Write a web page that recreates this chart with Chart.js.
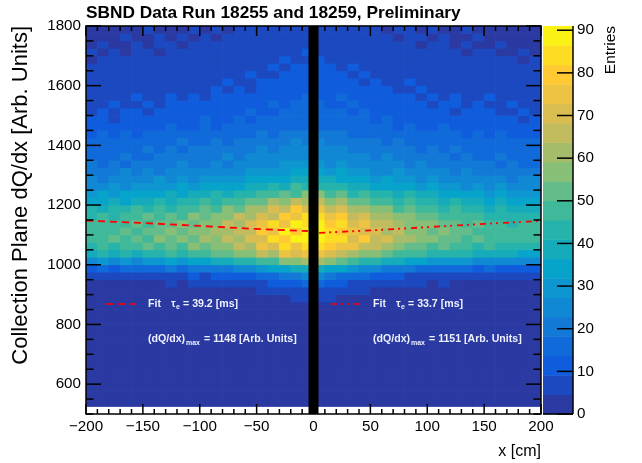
<!DOCTYPE html>
<html>
<head>
<meta charset="utf-8">
<title>SBND dQ/dx</title>
<script src="https://cdn.jsdelivr.net/npm/chart.js@4/dist/chart.umd.min.js"></script>
<style>
    html, body { margin: 0; padding: 0; background: #fff; }
    #wrap { width: 642px; height: 463px; }
</style>
</head>
<body>
<div id="wrap"><canvas id="plot"></canvas></div>
<script>
// --- Data ---
const titleText = 'SBND Data Run 18255 and 18259, Preliminary';
const xBinCenters = [-195, -185, -175, -165, -155, -145, -135, -125, -115, -105, -95, -85, -75, -65, -55, -45, -35, -25, -15, -5,
    5, 15, 25, 35, 45, 55, 65, 75, 85, 95, 105, 115, 125, 135, 145, 155, 165, 175, 185, 195];
const yBinWidth = 25;
const yTopEdge = 1800;

// entries per bin, first row is the top of the plot (1775-1800), each row is one dQ/dx bin
const counts = [
    [3, 2, 4, 3, 2, 5, 3, 4, 3, 5, 4, 6, 4, 5, 7, 5, 6, 8, 6, 7, 8, 6, 7, 5, 6, 7, 4, 5, 6, 3, 5, 4, 3, 5, 3, 4, 2, 4, 3, 2],
    [4, 3, 3, 5, 4, 3, 5, 4, 6, 4, 5, 4, 6, 5, 6, 8, 6, 7, 9, 7, 8, 9, 6, 7, 8, 5, 6, 4, 5, 6, 4, 5, 3, 4, 5, 3, 4, 3, 2, 4],
    [3, 5, 4, 3, 5, 4, 6, 5, 4, 6, 5, 7, 5, 6, 7, 6, 9, 7, 8, 8, 9, 7, 8, 6, 7, 6, 7, 5, 6, 4, 6, 5, 4, 5, 4, 3, 5, 4, 3, 3],
    [5, 4, 5, 4, 6, 5, 4, 7, 5, 6, 5, 6, 8, 6, 7, 8, 7, 9, 8, 10, 9, 8, 9, 7, 8, 7, 6, 7, 5, 6, 5, 6, 5, 4, 5, 6, 4, 3, 5, 4],
    [4, 6, 5, 6, 5, 7, 5, 6, 7, 5, 7, 6, 7, 8, 6, 9, 8, 10, 9, 9, 11, 9, 8, 9, 7, 8, 8, 6, 7, 6, 7, 5, 6, 7, 5, 5, 6, 5, 4, 5],
    [6, 5, 7, 5, 6, 6, 8, 6, 7, 6, 8, 7, 9, 7, 8, 8, 10, 9, 11, 10, 10, 11, 9, 10, 8, 9, 7, 8, 7, 8, 6, 7, 6, 6, 7, 5, 6, 7, 5, 6],
    [5, 7, 6, 7, 8, 6, 7, 8, 6, 8, 7, 8, 7, 9, 10, 8, 9, 11, 10, 12, 11, 10, 11, 9, 10, 8, 9, 8, 9, 7, 8, 6, 8, 7, 6, 8, 6, 5, 7, 6],
    [7, 6, 8, 7, 6, 8, 7, 9, 8, 7, 9, 8, 10, 8, 9, 11, 10, 12, 10, 11, 13, 11, 12, 10, 9, 11, 9, 8, 10, 8, 7, 9, 7, 8, 7, 6, 8, 7, 6, 7],
    [6, 8, 7, 9, 7, 8, 9, 7, 9, 8, 9, 10, 9, 11, 9, 10, 12, 11, 13, 12, 12, 13, 10, 12, 11, 10, 11, 9, 8, 10, 9, 8, 9, 7, 9, 8, 7, 8, 7, 8],
    [8, 7, 9, 8, 10, 8, 9, 10, 9, 11, 9, 10, 11, 10, 12, 11, 12, 13, 12, 14, 13, 12, 14, 11, 12, 10, 12, 11, 10, 9, 11, 9, 10, 9, 8, 10, 8, 9, 8, 7],
    [9, 8, 10, 9, 8, 11, 9, 10, 12, 10, 11, 10, 12, 11, 13, 12, 14, 12, 15, 14, 15, 13, 12, 14, 12, 13, 11, 12, 10, 11, 9, 11, 10, 9, 10, 9, 8, 10, 9, 8],
    [8, 10, 9, 11, 10, 9, 12, 10, 11, 10, 12, 13, 11, 12, 14, 13, 12, 15, 14, 16, 15, 14, 15, 13, 14, 12, 13, 11, 12, 12, 10, 11, 9, 11, 10, 11, 9, 8, 10, 9],
    [10, 11, 9, 12, 10, 12, 11, 13, 11, 12, 14, 12, 13, 15, 13, 14, 16, 15, 17, 16, 17, 16, 14, 15, 16, 13, 14, 12, 13, 11, 13, 12, 11, 10, 12, 10, 11, 10, 9, 11],
    [11, 10, 12, 11, 13, 11, 12, 14, 13, 12, 14, 13, 15, 14, 16, 15, 17, 16, 18, 17, 18, 15, 17, 16, 14, 16, 15, 13, 14, 13, 12, 14, 12, 13, 11, 12, 10, 12, 11, 10],
    [13, 14, 12, 15, 13, 14, 16, 14, 15, 17, 15, 16, 15, 17, 16, 19, 17, 20, 19, 21, 20, 19, 20, 17, 18, 16, 17, 16, 15, 16, 14, 15, 14, 13, 15, 13, 14, 12, 13, 13],
    [15, 14, 17, 15, 16, 18, 16, 17, 19, 17, 18, 20, 17, 19, 20, 19, 22, 20, 23, 22, 23, 21, 22, 20, 21, 19, 18, 20, 17, 18, 17, 16, 18, 15, 17, 15, 14, 16, 15, 15],
    [17, 16, 15, 18, 17, 19, 17, 20, 18, 19, 21, 19, 20, 22, 21, 23, 22, 25, 23, 24, 25, 23, 24, 22, 20, 22, 19, 21, 19, 18, 20, 17, 19, 18, 16, 18, 16, 15, 17, 16],
    [16, 18, 17, 19, 18, 17, 21, 19, 20, 22, 20, 21, 23, 22, 24, 23, 26, 24, 27, 26, 27, 25, 26, 23, 24, 22, 23, 20, 22, 21, 19, 20, 18, 20, 18, 17, 19, 17, 16, 18],
    [19, 17, 20, 18, 21, 19, 22, 20, 23, 21, 22, 24, 22, 25, 24, 27, 26, 29, 28, 30, 29, 27, 28, 26, 27, 24, 25, 23, 22, 24, 21, 22, 20, 21, 19, 20, 18, 19, 18, 17],
    [20, 22, 19, 23, 21, 24, 22, 23, 25, 23, 26, 24, 27, 26, 29, 28, 31, 29, 34, 33, 34, 31, 32, 28, 30, 27, 26, 28, 24, 25, 23, 24, 22, 23, 21, 22, 20, 22, 19, 20],
    [24, 22, 26, 23, 27, 25, 28, 26, 29, 27, 30, 28, 31, 30, 33, 32, 36, 34, 40, 38, 39, 37, 36, 33, 34, 31, 32, 29, 30, 27, 29, 26, 27, 24, 26, 23, 25, 22, 24, 23],
    [27, 25, 29, 26, 30, 28, 31, 29, 33, 30, 34, 32, 35, 34, 38, 37, 42, 40, 46, 44, 45, 42, 41, 37, 38, 34, 36, 32, 33, 30, 32, 29, 30, 27, 28, 26, 28, 25, 26, 25],
    [30, 33, 30, 35, 32, 36, 33, 37, 35, 39, 37, 41, 40, 44, 43, 48, 47, 53, 50, 56, 55, 50, 52, 45, 46, 42, 43, 39, 41, 37, 38, 34, 36, 32, 34, 31, 33, 30, 31, 30],
    [36, 34, 38, 36, 40, 37, 42, 39, 44, 41, 46, 43, 49, 47, 53, 52, 60, 57, 66, 63, 64, 58, 60, 52, 54, 48, 50, 45, 47, 42, 44, 40, 41, 37, 39, 36, 37, 34, 36, 35],
    [41, 39, 44, 41, 46, 43, 48, 45, 50, 47, 52, 49, 56, 54, 62, 60, 71, 66, 78, 70, 74, 68, 72, 60, 62, 55, 57, 50, 52, 47, 49, 45, 46, 42, 43, 40, 42, 39, 40, 40],
    [45, 47, 44, 49, 47, 51, 48, 53, 50, 55, 52, 58, 56, 64, 62, 72, 68, 80, 74, 84, 82, 75, 80, 68, 70, 61, 63, 55, 57, 51, 53, 49, 50, 46, 47, 44, 45, 43, 44, 44],
    [48, 46, 50, 48, 52, 49, 54, 51, 56, 54, 59, 56, 64, 61, 70, 74, 82, 76, 90, 85, 88, 80, 85, 72, 77, 66, 68, 60, 58, 55, 57, 52, 53, 49, 51, 47, 48, 45, 47, 46],
    [47, 50, 48, 52, 50, 54, 51, 56, 53, 58, 55, 62, 60, 68, 66, 78, 74, 88, 80, 91, 90, 84, 78, 76, 70, 72, 62, 64, 58, 59, 54, 55, 51, 52, 48, 50, 47, 48, 46, 47],
    [49, 47, 51, 48, 53, 50, 55, 52, 57, 54, 60, 57, 65, 63, 72, 69, 84, 78, 90, 87, 91, 82, 86, 72, 78, 66, 69, 60, 60, 55, 57, 53, 54, 50, 51, 48, 49, 46, 47, 48],
    [45, 47, 44, 49, 46, 51, 48, 53, 50, 55, 53, 59, 57, 64, 63, 74, 70, 82, 76, 86, 85, 78, 74, 73, 66, 64, 60, 58, 54, 54, 50, 51, 47, 48, 45, 46, 44, 45, 42, 43],
    [39, 41, 38, 43, 40, 45, 42, 47, 44, 50, 47, 53, 52, 58, 59, 66, 63, 73, 70, 76, 76, 70, 66, 62, 59, 56, 52, 50, 47, 46, 43, 44, 41, 41, 38, 40, 37, 38, 36, 36],
    [27, 28, 25, 29, 27, 31, 29, 33, 31, 35, 33, 38, 37, 42, 44, 50, 49, 56, 58, 60, 60, 55, 52, 47, 45, 41, 38, 37, 34, 33, 31, 30, 29, 28, 26, 27, 25, 26, 24, 25],
    [13, 15, 12, 16, 14, 17, 15, 19, 17, 20, 19, 22, 21, 26, 27, 31, 32, 36, 39, 40, 39, 36, 33, 30, 27, 24, 22, 21, 19, 18, 18, 16, 15, 15, 13, 14, 12, 13, 12, 12],
    [6, 7, 5, 8, 6, 8, 7, 9, 8, 10, 9, 11, 10, 13, 13, 16, 17, 20, 22, 24, 23, 20, 17, 16, 14, 12, 11, 10, 9, 9, 8, 9, 7, 8, 6, 7, 6, 7, 5, 6],
    [3, 3, 2, 4, 3, 4, 3, 5, 4, 5, 5, 6, 5, 7, 7, 9, 10, 12, 13, 15, 14, 12, 10, 9, 8, 7, 6, 6, 5, 5, 4, 5, 4, 4, 3, 3, 3, 3, 2, 3],
    [1, 2, 1, 2, 1, 2, 2, 3, 2, 3, 2, 3, 3, 4, 4, 5, 6, 7, 8, 9, 9, 8, 6, 5, 5, 4, 3, 4, 3, 3, 2, 3, 2, 2, 2, 2, 1, 2, 1, 1],
    [1, 1, 0, 1, 1, 1, 1, 1, 1, 2, 1, 2, 2, 2, 2, 3, 3, 4, 5, 6, 5, 5, 4, 3, 3, 2, 2, 2, 2, 1, 2, 1, 1, 1, 1, 1, 1, 1, 0, 1],
    [0, 1, 0, 0, 1, 0, 1, 1, 0, 1, 1, 1, 1, 1, 1, 2, 2, 2, 3, 3, 3, 3, 2, 2, 2, 1, 1, 1, 1, 1, 1, 1, 0, 1, 1, 0, 0, 1, 0, 0],
    [0, 0, 0, 1, 0, 0, 0, 1, 0, 0, 1, 0, 1, 0, 1, 1, 1, 1, 2, 2, 2, 2, 1, 1, 1, 1, 1, 0, 1, 0, 0, 1, 0, 0, 0, 1, 0, 0, 0, 0],
    [0, 0, 0, 0, 0, 1, 0, 0, 0, 0, 0, 1, 0, 0, 0, 1, 0, 1, 1, 1, 1, 1, 1, 1, 0, 0, 1, 0, 0, 0, 0, 0, 0, 1, 0, 0, 0, 0, 0, 0],
    [0, 0, 0, 0, 0, 0, 0, 0, 0, 0, 0, 0, 0, 0, 0, 0, 1, 0, 1, 1, 1, 0, 1, 0, 0, 0, 0, 0, 0, 0, 0, 0, 0, 0, 0, 0, 0, 0, 0, 0],
    [0, 0, 0, 0, 0, 0, 0, 0, 0, 0, 0, 0, 0, 0, 0, 0, 0, 0, 0, 1, 1, 0, 0, 0, 0, 0, 0, 0, 0, 0, 0, 0, 0, 0, 0, 0, 0, 0, 0, 0],
    [0, 0, 0, 0, 0, 0, 0, 0, 0, 0, 0, 0, 0, 0, 0, 0, 0, 0, 0, 0, 0, 0, 0, 0, 0, 0, 0, 0, 0, 0, 0, 0, 0, 0, 0, 0, 0, 0, 0, 0],
    [0, 0, 0, 0, 0, 0, 0, 0, 0, 0, 0, 0, 0, 0, 0, 0, 0, 0, 0, 0, 0, 0, 0, 0, 0, 0, 0, 0, 0, 0, 0, 0, 0, 0, 0, 0, 0, 0, 0, 0],
    [0, 0, 0, 0, 0, 0, 0, 0, 0, 0, 0, 0, 0, 0, 0, 0, 0, 0, 0, 0, 0, 0, 0, 0, 0, 0, 0, 0, 0, 0, 0, 0, 0, 0, 0, 0, 0, 0, 0, 0],
    [0, 0, 0, 0, 0, 0, 0, 0, 0, 0, 0, 0, 0, 0, 0, 0, 0, 0, 0, 0, 0, 0, 0, 0, 0, 0, 0, 0, 0, 0, 0, 0, 0, 0, 0, 0, 0, 0, 0, 0],
    [0, 0, 0, 0, 0, 0, 0, 0, 0, 0, 0, 0, 0, 0, 0, 0, 0, 0, 0, 0, 0, 0, 0, 0, 0, 0, 0, 0, 0, 0, 0, 0, 0, 0, 0, 0, 0, 0, 0, 0],
    [0, 0, 0, 0, 0, 0, 0, 0, 0, 0, 0, 0, 0, 0, 0, 0, 0, 0, 0, 0, 0, 0, 0, 0, 0, 0, 0, 0, 0, 0, 0, 0, 0, 0, 0, 0, 0, 0, 0, 0],
    [0, 0, 0, 0, 0, 0, 0, 0, 0, 0, 0, 0, 0, 0, 0, 0, 0, 0, 0, 0, 0, 0, 0, 0, 0, 0, 0, 0, 0, 0, 0, 0, 0, 0, 0, 0, 0, 0, 0, 0],
    [0, 0, 0, 0, 0, 0, 0, 0, 0, 0, 0, 0, 0, 0, 0, 0, 0, 0, 0, 0, 0, 0, 0, 0, 0, 0, 0, 0, 0, 0, 0, 0, 0, 0, 0, 0, 0, 0, 0, 0],
    [0, 0, 0, 0, 0, 0, 0, 0, 0, 0, 0, 0, 0, 0, 0, 0, 0, 0, 0, 0, 0, 0, 0, 0, 0, 0, 0, 0, 0, 0, 0, 0, 0, 0, 0, 0, 0, 0, 0, 0]
];

// fit curves
const fitLeftX = [-200, -150, -100, -50, -5];
const fitLeftY = [1148, 1140, 1130, 1120, 1113];
const fitRightX = [5, 50, 100, 150, 200];
const fitRightY = [1107, 1115, 1126, 1137, 1147];

// dead region between the two TPCs
const gapX = [0, 0];
const gapY = [500, 1800];

// colour bar
const zMax = 91;
const palette = ['#2a3aa2', '#1c49bf', '#0f5cdd', '#116ada', '#1379d7', '#1188d3', '#0d96cf', '#06a4ca', '#16abba', '#26b3ab',
    '#40b99b', '#63bc89', '#87bf77', '#a5bd6b', '#c2bc5f', '#dabd51', '#ecc342', '#fec932', '#fcdd24', '#faf115'];

const bandOf = (v) => Math.min(palette.length - 1, Math.floor(v / zMax * palette.length));

const fontFamily = "'Liberation Sans', Arial, sans-serif";
const minus = (v) => String(v).replace('-', '\u2212');

// --- Heat map rows as floating bars ---
const heatSets = counts.map((row, r) => {
    const low = yTopEdge - (r + 1) * yBinWidth;
    return {
        type: 'bar',
        order: 5,
        grouped: false,
        barPercentage: 1,
        categoryPercentage: 1,
        data: row.map((v, i) => ({ x: xBinCenters[i], y: [low, low + yBinWidth] })),
        backgroundColor: row.map((v) => palette[bandOf(v)]),
        borderWidth: 0
    };
});

const lineSet = (xs, ys, color, width, dash) => ({
    type: 'line',
    order: 0,
    data: xs.map((x, i) => ({ x: x, y: ys[i] })),
    borderColor: color,
    borderWidth: width,
    borderDash: dash,
    pointRadius: 0,
    tension: 0
});

const FIT_DASH_L = [7, 5];
const FIT_DASH_R = [6, 4, 2, 4, 2, 5];

// --- Ticks, colour bar and the on-plot legend ---
const rootDecor = {
    id: 'rootDecor',
    afterDatasetsDraw(chart) {
        const { ctx, chartArea: a, scales } = chart;
        const sx = scales.x, sy = scales.y, sz = scales.z;
        ctx.save();

        // palette boxes
        const barLeft = a.right + 2, barRight = a.right + 32;
        palette.forEach((c, i) => {
            const top = sz.getPixelForValue((i + 1) * zMax / palette.length);
            const bot = sz.getPixelForValue(i * zMax / palette.length);
            ctx.fillStyle = c;
            ctx.fillRect(barLeft, top, barRight - barLeft, bot - top + 0.5);
        });

        ctx.strokeStyle = '#000';
        ctx.lineWidth = 1.5;
        const seg = (x1, y1, x2, y2) => {
            ctx.beginPath();
            ctx.moveTo(x1, y1);
            ctx.lineTo(x2, y2);
            ctx.stroke();
        };

        // frame + ticks on all four sides
        ctx.strokeRect(a.left, a.top, a.right - a.left, a.bottom - a.top);
        for (let v = -200; v <= 200; v += 10) {
            const len = v % 50 === 0 ? 10 : 5;
            const px = sx.getPixelForValue(v);
            seg(px, a.bottom, px, a.bottom - len);
            seg(px, a.top, px, a.top + len);
        }
        for (let v = 500; v <= 1800; v += 50) {
            const len = v % 200 === 0 ? 15 : 7.5;
            const py = sy.getPixelForValue(v);
            seg(a.left, py, a.left + len, py);
            seg(a.right, py, a.right - len, py);
        }

        // colour bar axis
        seg(barRight, a.top, barRight, a.bottom);
        seg(barLeft, a.bottom, barRight, a.bottom);
        for (let v = 0; v <= 90; v += 10) {
            const py = sz.getPixelForValue(v);
            seg(barRight, py, barRight - 16, py);
        }

        // Entries label (reads bottom to top, so not the axis title)
        ctx.save();
        ctx.translate(615, a.top);
        ctx.rotate(-Math.PI / 2);
        ctx.fillStyle = '#000';
        ctx.font = '15.5px ' + fontFamily;
        ctx.textAlign = 'right';
        ctx.fillText('Entries', 0, 0);
        ctx.restore();

        // legends on the plot
        const legend = (dx, tau, dqdx, dash) => {
            ctx.strokeStyle = '#ff0000';
            ctx.lineWidth = 1.5;
            ctx.setLineDash(dash);
            seg(106 + dx, 304, 136 + dx, 304);
            ctx.setLineDash([]);
            ctx.fillStyle = '#eef0ff';
            ctx.textAlign = 'left';
            const bold = (size) => 'bold ' + size + 'px ' + fontFamily;
            ctx.font = bold(10.6);
            ctx.fillText('Fit', 148 + dx, 307);
            ctx.fillText('\u03c4', 171 + dx, 307);
            ctx.fillText('= ' + tau + ' [ms]', 183 + dx, 307);
            ctx.fillText('(dQ/dx)', 148 + dx, 342);
            ctx.fillText('= ' + dqdx + ' [Arb. Units]', 204 + dx, 342);
            ctx.font = bold(7);
            ctx.fillText('e', 176 + dx, 309);
            ctx.fillText('max', 186 + dx, 345);
        };
        legend(0, '39.2', '1148', FIT_DASH_L);
        legend(225, '33.7', '1151', FIT_DASH_R);

        ctx.restore();
    }
};

// fixes the axis boxes so the plot frame lands where the original has it
const noPadY = (width) => (s) => { s.width = width; s.paddingTop = 0; s.paddingBottom = 0; };

new Chart(document.getElementById('plot').getContext('2d'), {
    data: {
        datasets: [
            lineSet(fitLeftX, fitLeftY, '#ff0000', 1.8, FIT_DASH_L),
            lineSet(fitRightX, fitRightY, '#ff0000', 1.8, FIT_DASH_R),
            lineSet(gapX, gapY, '#000000', 10, []),
            ...heatSets
        ]
    },
    options: {
        responsive: true,
        maintainAspectRatio: false,
        animation: false,
        events: [],
        layout: { padding: 0 },
        plugins: {
            legend: { display: false },
            tooltip: { enabled: false },
            title: {
                display: true,
                fullSize: false,
                align: 'start',
                text: titleText,
                color: '#000',
                font: { family: fontFamily, size: 17.3, weight: 'bold' },
                padding: { top: 3, bottom: 2.2 }
            }
        },
        scales: {
            x: {
                type: 'linear',
                offset: false,
                min: -200,
                max: 200,
                afterFit: (s) => { s.height = 49; s.paddingLeft = 0; s.paddingRight = 0; },
                grid: { display: false, drawTicks: false },
                border: { display: false },
                ticks: {
                    stepSize: 50,
                    autoSkip: false,
                    maxRotation: 0,
                    padding: 4,
                    color: '#000',
                    font: { family: fontFamily, size: 15.2 },
                    callback: (v) => minus(v)
                },
                title: {
                    display: true,
                    text: 'x [cm]',
                    align: 'end',
                    color: '#000',
                    font: { family: fontFamily, size: 16 },
                    padding: { top: 0, bottom: 2 }
                }
            },
            y: {
                type: 'linear',
                position: 'left',
                min: 500,
                max: 1800,
                afterFit: noPadY(86),
                grid: { display: false, drawTicks: false },
                border: { display: false },
                ticks: {
                    stepSize: 200,
                    includeBounds: false,
                    autoSkip: false,
                    padding: 5,
                    color: '#000',
                    font: { family: fontFamily, size: 15.2 },
                    callback: (v) => String(v)
                },
                title: {
                    display: true,
                    text: 'Collection Plane dQ/dx [Arb. Units]',
                    align: 'end',
                    color: '#000',
                    font: { family: fontFamily, size: 22 },
                    padding: { top: 8, bottom: 0 }
                }
            },
            z: {
                type: 'linear',
                position: 'right',
                min: 0,
                max: zMax,
                afterFit: noPadY(101),
                grid: { display: false, drawTicks: false },
                border: { display: false },
                ticks: {
                    stepSize: 10,
                    includeBounds: false,
                    autoSkip: false,
                    padding: 36,
                    color: '#000',
                    font: { family: fontFamily, size: 15.2 },
                    callback: (v) => String(v)
                }
            }
        }
    },
    plugins: [rootDecor]
});
</script>
</body>
</html>
